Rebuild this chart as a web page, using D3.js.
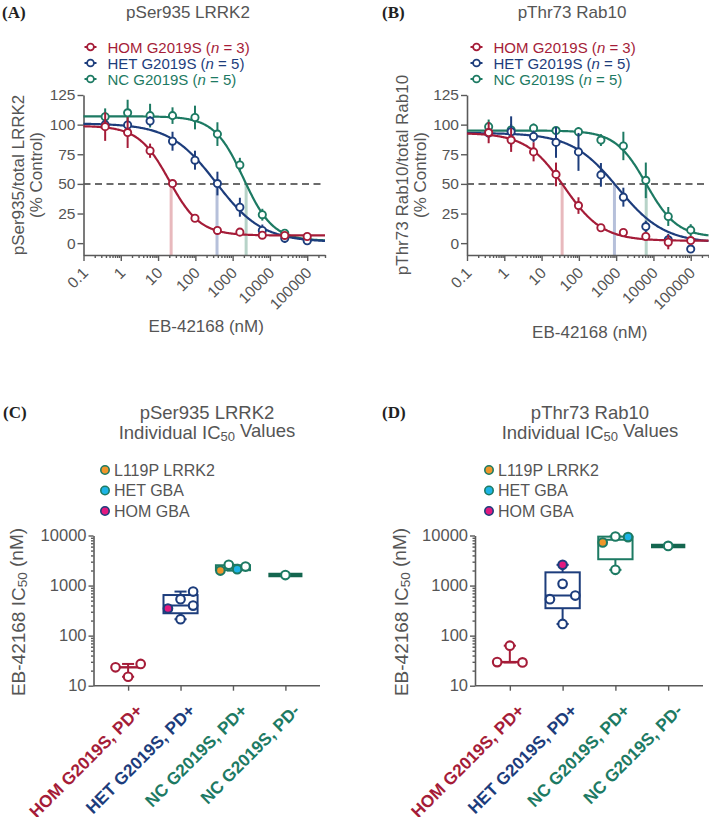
<!DOCTYPE html>
<html><head><meta charset="utf-8">
<script src="https://cdn.jsdelivr.net/npm/d3@7"></script>
<style>
body{margin:0;background:#fff}
</style></head><body>
<svg id="chart" width="709" height="817"></svg>
<script>
// ---------------- DATA ----------------
const conc = [0.381, 1.526, 6.104, 24.41, 97.66, 390.6, 1562.5, 6250, 25000, 100000];
const groupNames = ["HOM G2019S", "HET G2019S", "NC G2019S"];
const groupN = [3, 5, 5];
const xTickValues = [0.1, 1, 10, 100, 1000, 10000, 100000];
const xTickLabels = ["0.1", "1", "10", "100", "1000", "10000", "100000"];
const yTickValues = [0, 25, 50, 75, 100, 125];

// Panel A: pSer935/total LRRK2 (% Control), mean and SEM
const aHomMean = [98.3, 93.3, 78, 50.3, 21, 10.7, 9.3, 6.7, 6.5, 5.6];
const aHomSem  = [12, 13, 6, 3, 3, 2, 2, 1.5, 1.5, 1.5];
const aHetMean = [100, 99.7, 103, 86, 70, 50.3, 30.3, 10.7, 4.2, 2];
const aHetSem  = [3, 3, 4, 8, 8, 10, 8, 5, 4, 2];
const aNcMean  = [106.7, 110, 107.6, 107.6, 106, 92, 66, 24, 8.4, 2.8];
const aNcSem   = [7, 11, 10, 7, 10, 10, 6, 5, 3, 2];
// fitted 4PL parameters [top, bottom, EC50, hill]
const aHomFit = [99, 6.5, 20, 1.05];
const aHetFit = [101, 1, 360, 0.7];
const aNcFit  = [107, 2, 1967, 1.1];

// Panel B: pThr73 Rab10/total Rab10 (% Control)
const bHomMean = [93.3, 87, 77, 58, 31.7, 13, 9, 5.6, 0.8, 2.2];
const bHomSem  = [9, 10, 8, 10, 7, 3, 3, 2, 6, 3];
const bHetMean = [93, 94, 90, 85, 77, 57.6, 38.8, 14, 2.8, -5];
const bHetSem  = [4, 13, 5, 13, 16, 10, 8, 5, 5, 3];
const bNcMean  = [98.3, 95.5, 97, 95, 94, 87, 82, 53, 22.5, 11];
const bNcSem   = [6, 5, 4, 3, 4, 5, 12, 15, 8, 5];
const bHomFit = [93, 2, 40.5, 0.85];
const bHetFit = [93, 0, 1117, 0.7];
const bNcFit  = [95, 5, 6400, 1.05];

// Panels C/D: individual IC50 values (nM)
const icCategories = ["HOM G2019S, PD+", "HET G2019S, PD+", "NC G2019S, PD+", "NC G2019S, PD-"];
const icTickValues = [10, 100, 1000, 10000];
const variantNames = ["L119P LRRK2", "HET GBA", "HOM GBA"];
const cHom = [23.3, 27.2, 15.1];
const cHet = [347, 398, 213, 535, 759];
const cHetTag = ["HOM GBA", "", "", "", ""];
const cNcPos = [1995, 2594, 2128, 2399];
const cNcPosTag = ["L119P LRRK2", "", "HET GBA", ""];
const cNcNeg = [1620];
const dHom = [29.6, 29.2, 63];
const dHet = [535, 631, 171, 1081, 2594];
const dHetTag = ["", "", "", "", "HOM GBA"];
const dNcPos = [7244, 9550, 9290, 2061];
const dNcPosTag = ["L119P LRRK2", "", "HET GBA", ""];
const dNcNeg = [6200];

// ---------------- STYLE ----------------
const RED = "#a51c38", BLUE = "#1d3d7c", GREEN = "#1d7a63", DKGREEN = "#14664f";
const groupColors = [RED, BLUE, GREEN];
const catColors = [RED, BLUE, GREEN, GREEN];
const icLineColors = ["#e8b9bd", "#b6c0da", "#b7d3c8"];
const variantFill = {"L119P LRRK2": "#f0962a", "HET GBA": "#1cb4e6", "HOM GBA": "#e2197f"};
const variantStroke = {"L119P LRRK2": GREEN, "HET GBA": GREEN, "HOM GBA": BLUE};
const TXT = "#555", AX = "#5a5a5a";
const SANS = "'Liberation Sans', Arial, sans-serif";
const SERIF = "'Liberation Serif', 'Times New Roman', serif";

const svg = d3.select("#chart");

function fourPL(p, x) { return p[1] + (p[0] - p[1]) / (1 + Math.pow(x / p[2], p[3])); }
function ic50At50(p) { return p[2] * Math.pow((p[0] - p[1]) / (50 - p[1]) - 1, 1 / p[3]); }

function styleAxis(g, fs) {
  g.attr("font-family", null);
  g.select(".domain").attr("stroke", AX).attr("stroke-width", 1.6);
  g.selectAll(".tick line").attr("stroke", AX).attr("stroke-width", 1.4);
  g.selectAll(".tick text").attr("fill", TXT).style("font-size", fs + "px");
}
function minorLog(lo, hi) {
  const out = [];
  for (let e = Math.floor(Math.log10(lo)); e <= Math.ceil(Math.log10(hi)); e++)
    for (let k = 2; k <= 9; k++) { const v = k * Math.pow(10, e); if (v > lo && v <= hi) out.push(v); }
  return out;
}

// ---------------- DOSE-RESPONSE PANELS ----------------
function curvePanel(o) {
  const x = d3.scaleLog().domain([0.1, 3e5]).range([o.left, o.right]);
  const y = d3.scaleLinear().domain([-10, 125]).range([255, 95]);
  const g = svg.append("g");

  g.append("text").attr("class", "serif").attr("x", o.letterX).attr("y", 12).attr("dominant-baseline", "central")
    .style("font-weight", "bold").style("font-size", "17px").attr("fill", "#222").text(o.letter);
  g.append("text").attr("x", o.titleX).attr("y", 12).attr("text-anchor", "middle")
    .attr("dominant-baseline", "central").style("font-size", "17px").attr("fill", TXT).text(o.title);

  groupNames.forEach((nm, i) => {
    const ly = 47 + i * 16;
    g.append("line").attr("x1", o.legX - 6).attr("x2", o.legX + 6).attr("y1", ly).attr("y2", ly)
      .attr("stroke", groupColors[i]).attr("stroke-width", 2);
    g.append("circle").attr("cx", o.legX).attr("cy", ly).attr("r", 3.4).attr("fill", "#fff")
      .attr("stroke", groupColors[i]).attr("stroke-width", 1.8);
    const t = g.append("text").attr("x", o.legX + 17).attr("y", ly).attr("dominant-baseline", "central")
      .style("font-size", "15px").attr("fill", groupColors[i]);
    t.append("tspan").text(nm + " (");
    t.append("tspan").style("font-style", "italic").text("n");
    t.append("tspan").text(" = " + groupN[i] + ")");
  });

  g.append("text").attr("transform", `translate(${o.ylabX},175) rotate(-90)`)
    .attr("text-anchor", "middle").attr("dominant-baseline", "central").style("font-size", "17px")
    .attr("fill", TXT).text(o.ylab1);
  g.append("text").attr("transform", `translate(${o.ylabX + 18},175) rotate(-90)`)
    .attr("text-anchor", "middle").attr("dominant-baseline", "central").style("font-size", "17px")
    .attr("fill", TXT).text("(% Control)");

  g.append("text").attr("x", (o.left + o.right) / 2 + 2).attr("y", o.xlabY).attr("text-anchor", "middle")
    .attr("dominant-baseline", "central").style("font-size", "17px").attr("fill", TXT).text("EB-42168 (nM)");

  o.fits.forEach((p, i) => {
    const xv = ic50At50(p);
    g.append("line").attr("x1", x(xv)).attr("x2", x(xv)).attr("y1", y(50)).attr("y2", y(-10))
      .attr("stroke", icLineColors[i]).attr("stroke-width", 3);
  });
  g.append("line").attr("x1", o.left).attr("x2", o.right).attr("y1", y(50)).attr("y2", y(50))
    .attr("stroke", "#6b6b6b").attr("stroke-width", 2).attr("stroke-dasharray", "7,4.5");

  const ax = g.append("g").attr("transform", "translate(0,255)")
    .call(d3.axisBottom(x).tickValues(xTickValues).tickFormat((d, i) => xTickLabels[i]).tickSize(6).tickSizeOuter(0));
  styleAxis(ax, 15.5);
  ax.selectAll(".tick text").attr("x", 0).attr("y", 0).attr("dy", 0).attr("text-anchor", "end")
    .attr("transform", "translate(5,19) rotate(-45)");
  const axm = g.append("g").attr("transform", "translate(0,255)")
    .call(d3.axisBottom(x).tickValues(minorLog(0.1, 3e5)).tickFormat("").tickSize(3).tickSizeOuter(0));
  styleAxis(axm, 10); axm.select(".domain").remove();
  const ay = g.append("g").attr("transform", `translate(${o.left},0)`)
    .call(d3.axisLeft(y).tickValues(yTickValues).tickSize(6).tickSizeOuter(0));
  styleAxis(ay, 15.5);
  ay.selectAll(".tick text").attr("x", -8);

  const samples = d3.range(0, 301).map(i => Math.pow(10, -1 + i * (Math.log10(3e5) + 1) / 300));
  [2, 1, 0].forEach(i => {
    const p = o.fits[i], col = groupColors[i];
    g.append("path").datum(samples).attr("fill", "none").attr("stroke", col).attr("stroke-width", 2.2)
      .attr("d", d3.line().x(d => x(d)).y(d => y(fourPL(p, d))));
    const m = o.means[i], e = o.sems[i];
    g.selectAll(null).data(conc).enter().append("line")
      .attr("x1", d => x(d)).attr("x2", d => x(d))
      .attr("y1", (d, k) => y(m[k] - e[k])).attr("y2", (d, k) => y(m[k] + e[k]))
      .attr("stroke", col).attr("stroke-width", 2);
    g.selectAll(null).data(conc).enter().append("circle")
      .attr("cx", d => x(d)).attr("cy", (d, k) => y(m[k])).attr("r", 3.6)
      .attr("fill", "#fff").attr("stroke", col).attr("stroke-width", 1.9);
  });
}

curvePanel({left: 83.5, right: 325, letter: "(A)", letterX: 2, title: "pSer935 LRRK2", titleX: 188,
  legX: 90.5, ylabX: 18, ylab1: "pSer935/total LRRK2", xlabY: 326,
  fits: [aHomFit, aHetFit, aNcFit], means: [aHomMean, aHetMean, aNcMean], sems: [aHomSem, aHetSem, aNcSem]});
curvePanel({left: 467, right: 708.5, letter: "(B)", letterX: 382, title: "pThr73 Rab10", titleX: 572,
  legX: 476.5, ylabX: 402, ylab1: "pThr73 Rab10/total Rab10", xlabY: 332,
  fits: [bHomFit, bHetFit, bNcFit], means: [bHomMean, bHetMean, bNcMean], sems: [bHomSem, bHetSem, bNcSem]});

// ---------------- IC50 PANELS ----------------
function gpQuantile(sorted, p) {
  const n = sorted.length, r = (n + 1) * p;
  if (r <= 1) return sorted[0];
  if (r >= n) return sorted[n - 1];
  const lo = Math.floor(r);
  return sorted[lo - 1] + (r - lo) * (sorted[lo] - sorted[lo - 1]);
}
function swarm(vals, y, s) {
  const T = 5.9, D = 9.5;
  const idx = vals.map((v, i) => i).sort((a, b) => vals[a] - vals[b]);
  const rows = []; let cur = [idx[0]];
  for (let k = 1; k < idx.length; k++) {
    if (Math.abs(y(vals[idx[k]]) - y(vals[idx[k - 1]])) < T) cur.push(idx[k]);
    else { rows.push(cur); cur = [idx[k]]; }
  }
  rows.push(cur);
  const off = vals.map(() => 0), placed = [];
  rows.forEach(r => {
    if (r.length === 1) {
      const i = r[0], yy = y(vals[i]);
      let o = 0;
      for (const c of [0, s, -s]) {
        if (placed.every(p => Math.hypot(p[0] - c, p[1] - yy) >= D)) { o = c; break; }
      }
      off[i] = o; placed.push([o, yy]);
    } else {
      const rr = r.slice().sort((a, b) => a - b);
      rr.forEach((i, j) => { const o = -s + 2 * s * j / (rr.length - 1); off[i] = o; placed.push([o, y(vals[i])]); });
    }
  });
  return off;
}

function icPanel(o) {
  const y = d3.scaleLog().domain([10, 10000]).range([685.7, 535.5]);
  const x = d3.scalePoint().domain(icCategories).range([o.left, o.right]).padding(0.66);
  const step = x.step();
  const g = svg.append("g");

  g.append("text").attr("class", "serif").attr("x", o.letterX).attr("y", 412).attr("dominant-baseline", "central")
    .style("font-weight", "bold").style("font-size", "17px").attr("fill", "#222").text(o.letter);
  g.append("text").attr("x", o.titleX).attr("y", 412).attr("text-anchor", "middle")
    .attr("dominant-baseline", "central").style("font-size", "18.5px").attr("fill", TXT).text(o.title);
  const t2 = g.append("text").attr("x", o.titleX).attr("y", 432).attr("text-anchor", "middle")
    .attr("dominant-baseline", "central").style("font-size", "18.5px").attr("fill", TXT);
  t2.append("tspan").text("Individual IC");
  t2.append("tspan").attr("dy", "0.3em").style("font-size", "13px").text("50");
  t2.append("tspan").attr("dy", "-0.3em").text(" Values");

  variantNames.forEach((nm, i) => {
    const ly = 470 + i * 20.5;
    g.append("circle").attr("cx", o.legX).attr("cy", ly).attr("r", 4.2)
      .attr("fill", variantFill[nm]).attr("stroke", variantStroke[nm]).attr("stroke-width", 1.6);
    g.append("text").attr("x", o.legX + 9).attr("y", ly).attr("dominant-baseline", "central")
      .style("font-size", "16px").attr("fill", TXT).text(nm);
  });

  const yl = g.append("text").attr("transform", `translate(${o.ylabX},612) rotate(-90)`)
    .attr("text-anchor", "middle").attr("dominant-baseline", "central").style("font-size", "19px").attr("fill", TXT);
  yl.append("tspan").text("EB-42168 IC");
  yl.append("tspan").attr("dy", "0.3em").style("font-size", "13.5px").text("50");
  yl.append("tspan").attr("dy", "-0.3em").text(" (nM)");

  const ay = g.append("g").attr("transform", `translate(${o.left},0)`)
    .call(d3.axisLeft(y).tickValues(icTickValues).tickFormat(d3.format("d")).tickSize(5).tickSizeOuter(0));
  styleAxis(ay, 16.5);
  ay.selectAll(".tick text").attr("x", -7);
  const aym = g.append("g").attr("transform", `translate(${o.left},0)`)
    .call(d3.axisLeft(y).tickValues(minorLog(10, 10000)).tickFormat("").tickSize(2.5).tickSizeOuter(0));
  styleAxis(aym, 10); aym.select(".domain").remove();
  const ax = g.append("g").attr("transform", "translate(0,685.7)")
    .call(d3.axisBottom(x).tickSize(5).tickSizeOuter(0));
  styleAxis(ax, 17.2);
  ax.select(".domain").attr("d", `M${o.left},0H${o.right}`);
  ax.selectAll(".tick text").attr("x", 0).attr("y", 0).attr("dy", 0).attr("text-anchor", "end")
    .style("font-weight", "bold").attr("fill", (d, i) => catColors[i])
    .attr("transform", "translate(15,26) rotate(-45)");

  const s = step * 0.24, boxW = step * 0.65, capW = step * 0.23;
  o.groups.forEach((grp, gi) => {
    const cx = x(icCategories[gi]), col = catColors[gi];
    const sorted = grp.vals.slice().sort((a, b) => a - b);
    const med = gpQuantile(sorted, 0.5), mn = sorted[0], mx = sorted[sorted.length - 1];
    if (gi === 0) {
      g.append("line").attr("x1", cx).attr("x2", cx).attr("y1", y(mn)).attr("y2", y(mx)).attr("stroke", col).attr("stroke-width", 2);
      [mn, mx].forEach(v => g.append("line").attr("x1", cx - capW / 2).attr("x2", cx + capW / 2)
        .attr("y1", y(v)).attr("y2", y(v)).attr("stroke", col).attr("stroke-width", 2));
      g.append("line").attr("x1", cx - step * 0.25).attr("x2", cx + step * 0.25).attr("y1", y(med)).attr("y2", y(med))
        .attr("stroke", col).attr("stroke-width", 2.4);
    } else {
      const q1 = gpQuantile(sorted, 0.25), q3 = gpQuantile(sorted, 0.75);
      const w = gi === 3 ? DKGREEN : col;
      g.append("line").attr("x1", cx).attr("x2", cx).attr("y1", y(mn)).attr("y2", y(mx)).attr("stroke", w).attr("stroke-width", 2);
      [mn, mx].forEach(v => g.append("line").attr("x1", cx - capW / 2).attr("x2", cx + capW / 2)
        .attr("y1", y(v)).attr("y2", y(v)).attr("stroke", w).attr("stroke-width", 2));
      g.append("rect").attr("x", cx - boxW / 2).attr("width", boxW).attr("y", y(q3))
        .attr("height", Math.max(0, y(q1) - y(q3))).attr("fill", "#fff").attr("stroke", w)
        .attr("stroke-width", gi === 3 ? 3.2 : 2);
      g.append("line").attr("x1", cx - boxW / 2).attr("x2", cx + boxW / 2).attr("y1", y(med)).attr("y2", y(med))
        .attr("stroke", w).attr("stroke-width", gi === 3 ? 4.5 : 2);
    }
    const off = swarm(grp.vals, y, s);
    g.selectAll(null).data(grp.vals).enter().append("circle")
      .attr("cx", (d, i) => cx + off[i]).attr("cy", d => y(d)).attr("r", 4.3)
      .attr("fill", (d, i) => grp.tags && grp.tags[i] ? variantFill[grp.tags[i]] : "#fff")
      .attr("stroke", (d, i) => grp.tags && grp.tags[i] ? variantStroke[grp.tags[i]] : col)
      .attr("stroke-width", 2.1);
  });
}

icPanel({left: 93.5, right: 320, letter: "(C)", letterX: 3, title: "pSer935 LRRK2", titleX: 207,
  legX: 105, ylabX: 18,
  groups: [{vals: cHom}, {vals: cHet, tags: cHetTag}, {vals: cNcPos, tags: cNcPosTag}, {vals: cNcNeg}]});
icPanel({left: 475, right: 703, letter: "(D)", letterX: 382, title: "pThr73 Rab10", titleX: 590,
  legX: 489, ylabX: 401,
  groups: [{vals: dHom}, {vals: dHet, tags: dHetTag}, {vals: dNcPos, tags: dNcPosTag}, {vals: dNcNeg}]});

// fonts
svg.selectAll("text").style("font-family", SANS);
svg.selectAll("text.serif").style("font-family", SERIF);
</script>
</body></html>
